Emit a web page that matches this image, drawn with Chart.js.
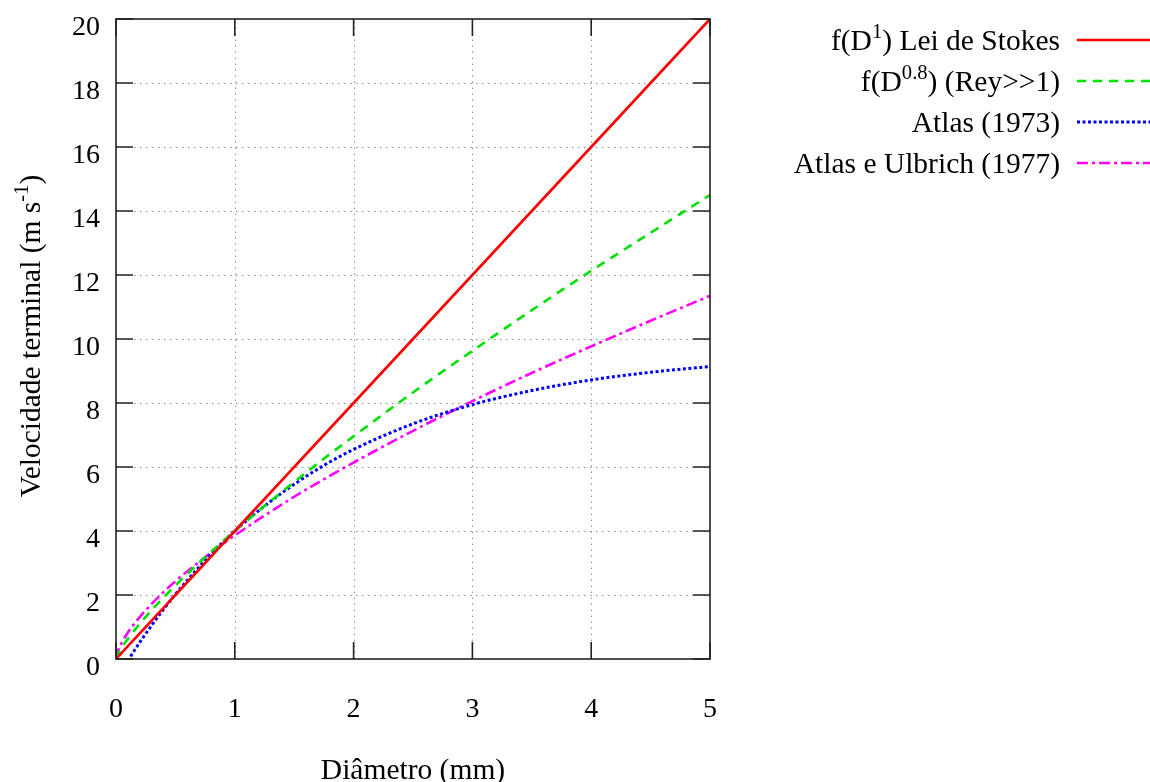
<!DOCTYPE html>
<html>
<head>
<meta charset="utf-8">
<script src="https://cdn.jsdelivr.net/npm/chart.js@4"></script>
<style>
  body { margin: 0; background: #fff; }
</style>
</head>
<body>
<canvas id="myChart" width="1150" height="782"></canvas>
<script>
// Diameter (mm) and terminal velocity (m/s)
const diametro = [0, 0.02, 0.05, 0.1, 0.2, 0.3, 0.4, 0.5, 0.75, 1, 1.25, 1.5, 1.75, 2, 2.5, 3, 3.5, 4, 4.5, 5];
const stokes   = [0, 0.08, 0.2, 0.4, 0.8, 1.2, 1.6, 2, 3, 4, 5, 6, 7, 8, 10, 12, 14, 16, 18, 20];
const rey      = [0, 0.17, 0.36, 0.63, 1.10, 1.53, 1.92, 2.30, 3.18, 4.00, 4.78, 5.53, 6.26, 6.96, 8.33, 9.63, 10.90, 12.13, 13.32, 14.50];
const atlas73  = [-0.65, -0.53, -0.35, -0.05, 0.52, 1.05, 1.55, 2.02, 3.08, 4.00, 4.78, 5.46, 6.05, 6.55, 7.35, 7.95, 8.39, 8.72, 8.96, 9.14];
const atlas77  = [0, 0.28, 0.52, 0.83, 1.31, 1.72, 2.09, 2.43, 3.18, 3.86, 4.48, 5.07, 5.62, 6.14, 7.13, 8.06, 8.94, 9.77, 10.57, 11.35];

const xTicks = [0, 1, 2, 3, 4, 5];
const yTicks = [0, 2, 4, 6, 8, 10, 12, 14, 16, 18, 20];

const legendLabels = [
    [{ t: 'f(D' }, { t: '1', sup: true }, { t: ') Lei de Stokes' }],
    [{ t: 'f(D' }, { t: '0.8', sup: true }, { t: ') (Rey>>1)' }],
    [{ t: 'Atlas (1973)' }],
    [{ t: 'Atlas e Ulbrich (1977)' }]
];
const yTitle = [{ t: 'Velocidade terminal (m s' }, { t: '-1', sup: true }, { t: ')' }];
const xTitle = [{ t: 'Diâmetro (mm)' }];

const FONT = 'Liberation Serif';

function toPoints(values) {
    return diametro.map((d, i) => ({ x: d, y: values[i] }));
}

function richWidth(ctx, parts, size) {
    let w = 0;
    parts.forEach(p => {
        ctx.font = (p.sup ? size * 0.7 : size) + 'px "' + FONT + '"';
        w += ctx.measureText(p.t).width;
    });
    return w;
}

// draws text with superscript parts, align 'right' or 'center'
function drawRich(ctx, parts, x, y, size, align) {
    const w = richWidth(ctx, parts, size);
    let cx = align === 'right' ? x - w : x - w / 2;
    ctx.textBaseline = 'alphabetic';
    ctx.textAlign = 'left';
    ctx.fillStyle = '#000';
    parts.forEach(p => {
        const s = p.sup ? size * 0.7 : size;
        ctx.font = s + 'px "' + FONT + '"';
        ctx.fillText(p.t, cx, p.sup ? y - size * 0.4 : y);
        cx += ctx.measureText(p.t).width;
    });
}

const frame = {
    id: 'frame',
    beforeDatasetsDraw(chart) {
        const { ctx, chartArea: a, scales } = chart;
        ctx.save();
        ctx.strokeStyle = '#909090';
        ctx.lineWidth = 1;
        ctx.setLineDash([1.5, 4.5]);
        xTicks.slice(1, -1).forEach(v => {
            const px = Math.round(scales.x.getPixelForValue(v)) + 0.5;
            ctx.beginPath(); ctx.moveTo(px, a.bottom); ctx.lineTo(px, a.top); ctx.stroke();
        });
        yTicks.slice(1, -1).forEach(v => {
            const py = Math.round(scales.y.getPixelForValue(v)) + 0.5;
            ctx.beginPath(); ctx.moveTo(a.left, py); ctx.lineTo(a.right, py); ctx.stroke();
        });
        ctx.restore();
    },
    afterDatasetsDraw(chart) {
        const { ctx, chartArea: a, scales } = chart;
        const len = 17;
        ctx.save();
        ctx.strokeStyle = '#222';
        ctx.lineWidth = 1.6;
        ctx.strokeRect(a.left, a.top, a.right - a.left, a.bottom - a.top);
        ctx.beginPath();
        xTicks.forEach(v => {
            const px = scales.x.getPixelForValue(v);
            ctx.moveTo(px, a.bottom); ctx.lineTo(px, a.bottom - len);
            ctx.moveTo(px, a.top); ctx.lineTo(px, a.top + len);
        });
        yTicks.forEach(v => {
            const py = scales.y.getPixelForValue(v);
            ctx.moveTo(a.left, py); ctx.lineTo(a.left + len, py);
            ctx.moveTo(a.right, py); ctx.lineTo(a.right - len, py);
        });
        ctx.stroke();
        ctx.restore();
    },
    afterDraw(chart) {
        const ctx = chart.ctx;
        ctx.save();
        // legend, gnuplot style: text right aligned, sample line to its right
        chart.data.datasets.forEach((ds, i) => {
            const y = 40 + i * 41;
            drawRich(ctx, legendLabels[i], 1060, y + 10, 29.5, 'right');
            ctx.strokeStyle = ds.borderColor;
            ctx.lineWidth = ds.borderWidth;
            ctx.setLineDash(ds.borderDash || []);
            ctx.beginPath(); ctx.moveTo(1077, y); ctx.lineTo(1150, y); ctx.stroke();
        });
        ctx.setLineDash([]);
        drawRich(ctx, xTitle, 413, 779, 29.5, 'center');
        ctx.translate(40, 336);
        ctx.rotate(-Math.PI / 2);
        drawRich(ctx, yTitle, 0, 0, 29.5, 'center');
        ctx.restore();
    }
};

const ctx = document.getElementById('myChart');

new Chart(ctx, {
    type: 'line',
    data: {
        datasets: [
            { data: toPoints(stokes), borderColor: '#ff0000', borderWidth: 2.6 },
            { data: toPoints(rey), borderColor: '#00e000', borderWidth: 2.6, borderDash: [9, 7] },
            { data: toPoints(atlas73), borderColor: '#0000ff', borderWidth: 3, borderDash: [3, 2.5] },
            { data: toPoints(atlas77), borderColor: '#ff00ff', borderWidth: 2.6, borderDash: [11, 4, 3, 4] }
        ]
    },
    options: {
        responsive: false,
        animation: false,
        layout: { padding: { left: 0, top: 19, right: 440, bottom: 0 } },
        elements: {
            point: { radius: 0 },
            line: { cubicInterpolationMode: 'monotone', fill: false }
        },
        plugins: {
            legend: { display: false },
            tooltip: { enabled: false }
        },
        scales: {
            x: {
                type: 'linear',
                min: 0,
                max: 5,
                afterFit: s => { s.height = 123; s.paddingLeft = 0; s.paddingRight = 0; },
                afterBuildTicks: s => { s.ticks = xTicks.map(v => ({ value: v })); },
                grid: { display: false, drawTicks: false },
                border: { display: false },
                ticks: { padding: 34, color: '#000', font: { family: FONT, size: 28 } }
            },
            y: {
                min: 0,
                max: 20,
                afterFit: s => { s.width = 116; s.paddingTop = 0; s.paddingBottom = 0; },
                afterBuildTicks: s => { s.ticks = yTicks.map(v => ({ value: v })); },
                grid: { display: false, drawTicks: false },
                border: { display: false },
                ticks: { padding: 16, labelOffset: 9, color: '#000', font: { family: FONT, size: 28 } }
            }
        }
    },
    plugins: [frame]
});
</script>
</body>
</html>
